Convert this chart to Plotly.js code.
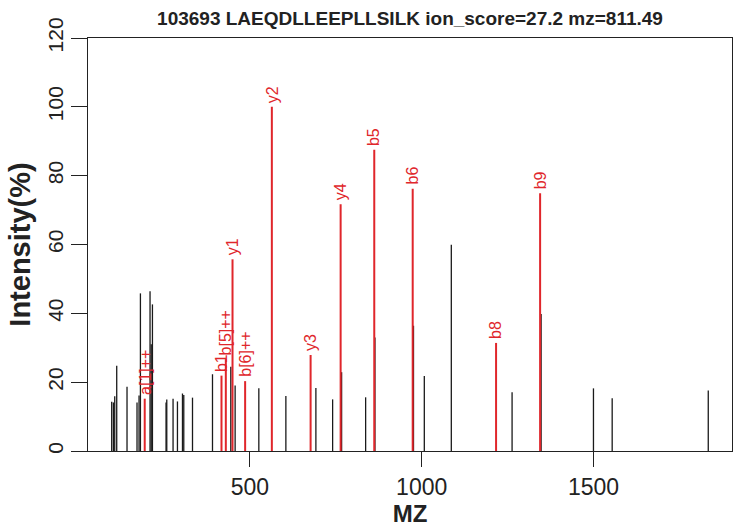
<!DOCTYPE html>
<html>
<head>
<meta charset="utf-8">
<script src="https://cdn.plot.ly/plotly-3.0.1.min.js"></script>
<style>html,body{margin:0;padding:0;background:#fff;}#chart{width:733px;height:529px;}</style>
</head>
<body>
<div id="chart"></div>
<script>
// Unmatched (black) peaks
const blackMZ = [97.6, 102.6, 106.4, 112.2, 142.2, 171.3, 177.2, 181.2, 209.2, 212.7,
  216.2, 255.8, 257.9, 276.2, 289.0, 303.6, 307.4, 332.8, 391.0, 444.3,
  456.9, 525.9, 604.6, 692.0, 740.7, 766.9, 836.8, 863.9, 976.1, 1007.6,
  1086.2, 1263.1, 1347.6, 1500.0, 1554.5, 1834.2];
const blackInt = [14.3, 14.1, 15.9, 24.8, 18.7, 14.1, 16.1, 45.8, 46.4, 31.0,
  42.6, 14.1, 15.0, 15.2, 14.4, 16.7, 16.3, 15.5, 22.3, 24.5,
  19.0, 18.2, 16.0, 18.3, 15.0, 22.9, 15.6, 33.0, 36.4, 21.8,
  59.9, 17.1, 39.8, 18.2, 15.3, 17.6];

// Matched (red) fragment ions
const ionLabels = ['a[1]++', 'b1', 'b[5]++', 'y1', 'b[6]++', 'y2', 'y3', 'y4', 'b5', 'b6', 'b8', 'b9'];
const ionMZ = [193.7, 417.2, 429.8, 449.3, 486.0, 563.8, 676.6, 764.0, 861.9, 973.8, 1216.5, 1344.7];
const ionInt = [15.2, 21.9, 26.7, 55.7, 20.3, 100, 27.9, 71.7, 87.5, 76.2, 31.4, 74.9];

const xTicks = [500, 1000, 1500];
const yTicks = [0, 20, 40, 60, 80, 100, 120];
const titleText = '103693 LAEQDLLEEPLLSILK ion_score=27.2 mz=811.49';

const RED = '#e0262b';
const BLK = '#1a1a1a';
const FONT = 'Liberation Sans, Arial, Helvetica, sans-serif';

function sticks(xs, ys) {
  const X = [], Y = [];
  xs.forEach((x, i) => { X.push(x, x, null); Y.push(0, ys[i], null); });
  return {X, Y};
}
const b = sticks(blackMZ, blackInt);
const r = sticks(ionMZ, ionInt);

const traces = [
  {x: b.X, y: b.Y, mode: 'lines', type: 'scatter', line: {color: BLK, width: 1.3}, hoverinfo: 'skip'},
  {x: r.X, y: r.Y, mode: 'lines', type: 'scatter', line: {color: RED, width: 2}, hoverinfo: 'skip'}
];

const annotations = ionLabels.map((t, i) => ({
  x: ionMZ[i], y: ionInt[i], xref: 'x', yref: 'y', text: t, showarrow: false,
  textangle: -90, xanchor: 'center', yanchor: 'bottom', yshift: 2,
  font: {family: FONT, size: 16, color: RED}
}));

const layout = {
  width: 733, height: 529,
  margin: {l: 88, r: 1, t: 38, b: 78, pad: 0},
  paper_bgcolor: '#fff', plot_bgcolor: '#fff',
  showlegend: false,
  font: {family: FONT, color: '#222'},
  title: {text: '<b>' + titleText + '</b>', font: {family: FONT, size: 19, color: '#222'},
          x: 0.5, xref: 'paper', xanchor: 'center', y: 0.966, yref: 'container', yanchor: 'middle'},
  xaxis: {
    range: [28.6, 1903.3], tickmode: 'array', tickvals: xTicks, ticktext: xTicks.map(String),
    ticks: 'outside', ticklen: 15, tickwidth: 1, tickcolor: '#222',
    showgrid: false, zeroline: false, showline: true, mirror: true, linecolor: '#222', linewidth: 1,
    tickfont: {family: FONT, size: 23, color: '#222'},
    title: {text: '<b>MZ</b>', font: {family: FONT, size: 24, color: '#222'}, standoff: 6}
  },
  yaxis: {
    range: [0, 120], tickmode: 'array', tickvals: yTicks, ticktext: yTicks.map(String),
    ticks: 'outside', ticklen: 16, tickwidth: 1, tickcolor: '#222', tickangle: -90,
    showgrid: false, zeroline: false, showline: true, mirror: true, linecolor: '#222', linewidth: 1,
    tickfont: {family: FONT, size: 21, color: '#222'},
    title: {text: '<b>Intensity(%)</b>', font: {family: FONT, size: 29, color: '#222'}, standoff: 4}
  },
  annotations: annotations
};

Plotly.newPlot('chart', traces, layout, {displayModeBar: false, staticPlot: true});
</script>
</body>
</html>
